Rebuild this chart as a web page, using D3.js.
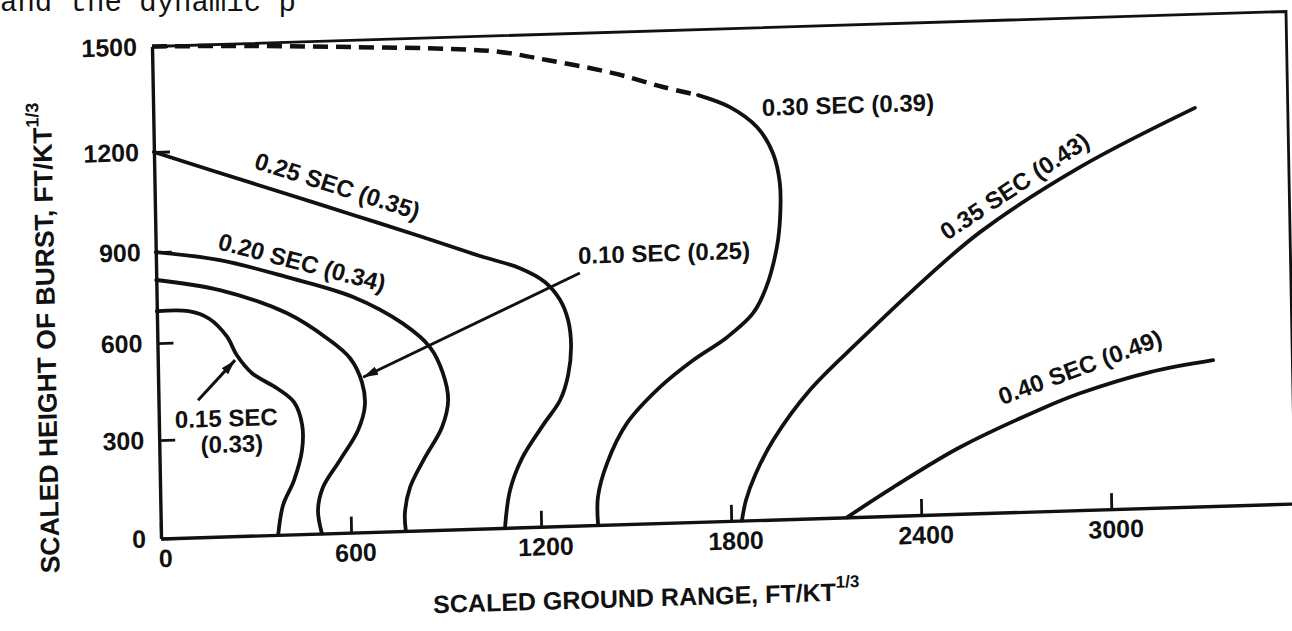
<!DOCTYPE html>
<html>
<head>
<meta charset="utf-8">
<script src="https://cdn.jsdelivr.net/npm/d3@7"></script>
<style>
  html, body { margin: 0; padding: 0; background: #fff; overflow: hidden; }
  svg { display: block; }
  text { font-family: "Liberation Sans", Arial, Helvetica, sans-serif; font-weight: bold; fill: #111; }
</style>
</head>
<body>
<svg id="chart" width="1292" height="631"></svg>
<script>
// Arrival-time contours: scaled height of burst vs scaled ground range (ft/kt^1/3)

const rangeTicks  = [0, 600, 1200, 1800, 2400, 3000];
const heightTicks = [0, 300, 600, 900, 1200, 1500];
const rangeMax = 3580;

// Each contour: [ground range, height of burst]
const contour010 = [[0,808],[200,768],[411,685],[535,599],[607,535],[643,460],[651,388],[628,312],[569,222],[514,141],[497,71],[508,0]];
const contour015 = [[0,705],[100,702],[165,675],[220,614],[250,555],[297,498],[375,449],[428,404],[452,333],[450,256],[423,165],[387,90],[370,0]];
const contour020 = [[0,900],[202,867],[413,804],[620,732],[776,639],[860,561],[899,480],[914,396],[893,313],[838,223],[789,133],[771,54],[773,0]];
const contour025 = [[0,1200],[207,1131],[417,1062],[625,993],[835,923],[1023,854],[1148,810],[1226,762],[1273,701],[1297,634],[1305,554],[1294,462],[1267,385],[1212,310],[1144,211],[1104,114],[1086,0]];
const contour030Estimated = [[0,1500],[309,1493],[625,1481],[940,1467],[1098,1454],[1245,1427],[1453,1384],[1610,1340],[1720,1314]];
const contour030 = [[1720,1314],[1820,1277],[1904,1218],[1953,1139],[1973,1049],[1972,947],[1960,853],[1923,719],[1881,638],[1798,564],[1689,496],[1583,416],[1477,308],[1412,188],[1381,85],[1380,0]];
const contour035 = [[1834,0],[1848,62],[1878,137],[1937,242],[2056,393],[2217,542],[2387,698],[2602,882],[2921,1069],[3287,1234]];
const contour040 = [[2166,0],[2313,87],[2526,203],[2781,311],[2908,357],[3130,416],[3330,447]];

// Labels: time of arrival (SEC) with the value in parentheses
const labelText = ["0.10 SEC (0.25)", "0.15 SEC", "(0.33)", "0.20 SEC (0.34)", "0.25 SEC (0.35)", "0.30 SEC (0.39)", "0.35 SEC (0.43)", "0.40 SEC (0.49)"];

// Leader arrows: [from, to] in data units
const arrow010 = [[1337,788],[647,475]];
const arrow015 = [[125,420],[244,540]];

// ---- layout ----
const W = 1134, H = 492;
const svg = d3.select("#chart");

// running text of the page above the figure
svg.append("text")
  .attr("x", 0).attr("y", 11)
  .style("font-family", "'Liberation Mono', 'DejaVu Sans Mono', monospace")
  .style("font-weight", "normal")
  .style("font-size", "29px")
  .text("and the dynamic p");

// the printed figure sits slightly skewed on the page
const g = svg.append("g").attr("transform", "matrix(1,-0.03086,0.01829,1,152,46.5)");

const x = d3.scaleLinear().domain([0, rangeMax]).range([0, W]);
// printed height divisions are not evenly spaced
const y = d3.scaleLinear().domain(heightTicks).range([492, 393.7, 296.6, 205.6, 105.5, 0]);

const defs = svg.append("defs");
defs.append("marker")
  .attr("id", "head")
  .attr("viewBox", "0 0 10 10")
  .attr("refX", 10).attr("refY", 5)
  .attr("markerUnits", "userSpaceOnUse")
  .attr("markerWidth", 15).attr("markerHeight", 9)
  .attr("preserveAspectRatio", "none")
  .attr("orient", "auto")
  .append("path").attr("d", "M0,0L10,5L0,10Z").attr("fill", "#111");

// frame: top and right edges
g.append("path")
  .attr("d", `M${x(0)},${y(1500)}H${x(rangeMax)}V${y(0)}`)
  .attr("fill", "none").attr("stroke", "#111").attr("stroke-width", 2.8);

// axes with inward ticks
const xAxis = d3.axisBottom(x).tickValues(rangeTicks).tickSize(-16).tickSizeOuter(0).tickPadding(11).tickFormat(d3.format("d"));
const yAxis = d3.axisLeft(y).tickValues(heightTicks).tickSize(-16).tickSizeOuter(0).tickPadding(15).tickFormat(d3.format("d"));

const gx = g.append("g").attr("transform", `translate(0,${H})`).call(xAxis);
const gy = g.append("g").call(yAxis);
[gx, gy].forEach(a => {
  a.attr("font-family", null).attr("font-size", null);
  a.select(".domain").attr("stroke", "#111").attr("stroke-width", 3.4);
  a.selectAll(".tick line").attr("stroke", "#111").attr("stroke-width", 2.8);
  a.selectAll(".tick text").style("font-size", "25px").attr("fill", "#111");
});
gx.selectAll(".tick text").attr("dx", 4);

// axis titles
const xt = g.append("text")
  .attr("x", 484).attr("y", 575)
  .attr("text-anchor", "middle")
  .style("font-size", "25px");
xt.append("tspan").text("SCALED GROUND RANGE, FT/KT");
xt.append("tspan").attr("dy", -13).style("font-size", "17px").text("1/3");

const yt = g.append("text")
  .attr("transform", "translate(-102,288) rotate(-90)")
  .attr("text-anchor", "middle")
  .style("font-size", "26.5px");
yt.append("tspan").text("SCALED HEIGHT OF BURST, FT/KT");
yt.append("tspan").attr("dy", -13).style("font-size", "18px").text("1/3");

// contours
const line = d3.line().x(d => x(d[0])).y(d => y(d[1])).curve(d3.curveCatmullRom.alpha(0.5));
const solid = [contour010, contour015, contour020, contour025, contour030, contour035, contour040];
g.append("g").selectAll("path").data(solid).join("path")
  .attr("d", line)
  .attr("fill", "none").attr("stroke", "#111").attr("stroke-width", 3.8)
  .attr("stroke-linecap", "round");

g.append("path")
  .attr("d", line(contour030Estimated))
  .attr("fill", "none").attr("stroke", "#111").attr("stroke-width", 4.5)
  .attr("stroke-dasharray", "15 8");

// leader arrows
g.append("g").selectAll("path").data([arrow010, arrow015]).join("path")
  .attr("d", d => `M${x(d[0][0])},${y(d[0][1])}L${x(d[1][0])},${y(d[1][1])}`)
  .attr("stroke", "#111").attr("stroke-width", 3)
  .attr("marker-end", "url(#head)");

// contour labels (placed in data units)
const labelPlace = [
  { at: [1332, 818], anchor: "start",  angle: 0 },
  { at: [213, 336],  anchor: "middle", angle: 0 },
  { at: [229, 256],  anchor: "middle", angle: 0 },
  { at: [193, 904],  anchor: "start",  angle: 16.3 },
  { at: [312, 1143], anchor: "start",  angle: 19.3 },
  { at: [1921, 1249], anchor: "start", angle: 0 },
  { at: [2497, 856], anchor: "start",  angle: -32 },
  { at: [2661, 328], anchor: "start",  angle: -18.7 }
];
g.append("g").selectAll("text").data(labelText).join("text")
  .attr("transform", (d, i) => `translate(${x(labelPlace[i].at[0])},${y(labelPlace[i].at[1])}) rotate(${labelPlace[i].angle})`)
  .attr("text-anchor", (d, i) => labelPlace[i].anchor)
  .style("font-size", "24px")
  .text(d => d);
</script>
</body>
</html>
